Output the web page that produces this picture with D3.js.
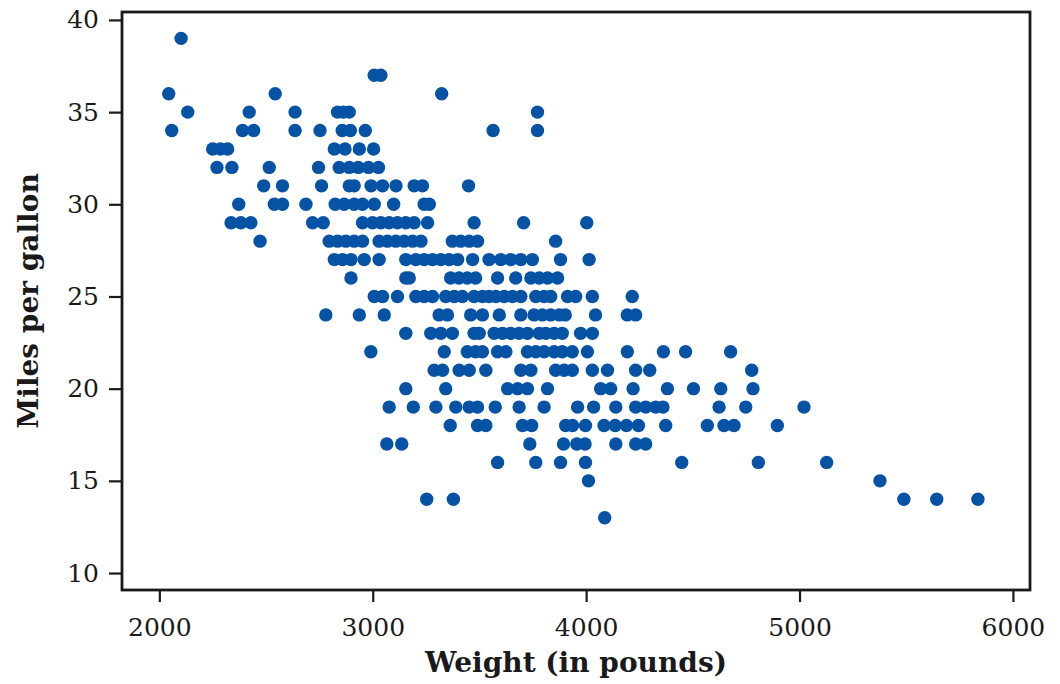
<!DOCTYPE html>
<html>
<head>
<meta charset="utf-8">
<script src="https://cdn.jsdelivr.net/npm/d3@7"></script>
<style>
  html, body { margin: 0; padding: 0; background: #fff; }
  svg { display: block; }
</style>
</head>
<body>
<div id="chart"></div>
<script>
// weights (lb) of the cars, one array per miles-per-gallon value
const w39 = [2102];
const w37 = [3007, 3038];
const w36 = [2044, 2543, 3323];
const w35 = [2133, 2421, 2636, 2835, 2862, 2890, 3772];
const w34 = [2058, 2390, 2442, 2636, 2753, 2857, 2895, 2965, 3564, 3772];
const w33 = [2250, 2286, 2320, 2820, 2870, 2937, 3004];
const w32 = [2270, 2340, 2515, 2746, 2843, 2890, 2932, 2980, 3027];
const w31 = [2489, 2577, 2760, 2890, 2913, 2992, 3046, 3109, 3194, 3233, 3449];
const w30 = [2372, 2539, 2577, 2687, 2824, 2866, 2913, 2952, 3007, 3098, 3241, 3265];
const w29 = [2336, 2382, 2429, 2718, 2768, 2952, 2999, 3038, 3077, 3116, 3155, 3194, 3257, 3475, 3707, 4003];
const w28 = [2472, 2796, 2835, 2874, 2913, 2952, 3030, 3069, 3108, 3147, 3187, 3226, 3373, 3412, 3452, 3491, 3857];
const w27 = [2820, 2858, 2898, 2960, 3030, 3155, 3202, 3241, 3280, 3319, 3358, 3398, 3468, 3545, 3600, 3647, 3694, 3748, 3880, 4014];
const w26 = [2898, 3155, 3171, 3365, 3404, 3443, 3482, 3585, 3670, 3741, 3780, 3819, 3866];
const w25 = [3007, 3046, 3116, 3202, 3241, 3280, 3342, 3382, 3420, 3475, 3514, 3545, 3577, 3616, 3655, 3694, 3764, 3803, 3834, 3913, 3951, 4029, 4216];
const w24 = [2780, 2937, 3054, 3311, 3350, 3459, 3514, 3593, 3694, 3756, 3795, 3834, 3874, 3902, 4044, 4193, 4232];
const w23 = [3155, 3272, 3319, 3373, 3475, 3499, 3569, 3608, 3647, 3686, 3725, 3780, 3811, 3850, 3888, 3974, 4029];
const w22 = [2991, 3335, 3443, 3482, 3514, 3585, 3624, 3725, 3764, 3803, 3850, 3888, 3935, 4006, 4193, 4362, 4466, 4677];
const w21 = [3288, 3327, 3405, 3452, 3530, 3694, 3741, 3857, 3897, 3935, 4029, 4100, 4232, 4298, 4776];
const w20 = [3155, 3342, 3632, 3679, 3725, 3819, 4068, 4115, 4220, 4381, 4503, 4631, 4782];
const w19 = [3077, 3190, 3296, 3389, 3452, 3491, 3574, 3686, 3803, 3960, 4035, 4139, 4232, 4279, 4326, 4360, 4623, 4748, 5021];
const w18 = [3363, 3491, 3530, 3702, 3745, 3904, 3936, 3997, 4084, 4136, 4189, 4245, 4373, 4568, 4646, 4693, 4896];
const w17 = [3066, 3136, 3736, 3894, 3956, 3995, 4139, 4232, 4279];
const w16 = [3585, 3764, 3880, 3997, 4448, 4807, 5127];
const w15 = [4011, 5377];
const w14 = [3253, 3378, 5489, 5643, 5836];
const w13 = [4087];

const mpgValues = [39, 37, 36, 35, 34, 33, 32, 31, 30, 29, 28, 27, 26, 25, 24, 23, 22, 21, 20, 19, 18, 17, 16, 15, 14, 13];
const weightRows = [w39, w37, w36, w35, w34, w33, w32, w31, w30, w29, w28, w27, w26, w25, w24, w23, w22, w21, w20, w19, w18, w17, w16, w15, w14, w13];

const xTicks = [2000, 3000, 4000, 5000, 6000];
const yTicks = [10, 15, 20, 25, 30, 35, 40];

const width = 1060,
  height = 684;
const margin = { top: 12, right: 30, bottom: 94, left: 122 };

const svg = d3.select("#chart")
  .append("svg")
  .attr("width", width)
  .attr("height", height);

const data = [];
mpgValues.forEach((m, i) => {
  weightRows[i].forEach(w => data.push({ weight: w, mpg: m }));
});

const x = d3.scaleLinear()
  .domain([1825, 6080])
  .range([margin.left, width - margin.right]);

const y = d3.scaleLinear()
  .domain([9.08, 40.43])
  .range([height - margin.bottom, margin.top]);

const font = "'DejaVu Serif', 'Liberation Serif', serif";

// points
svg.append("g")
  .selectAll("circle")
  .data(data)
  .join("circle")
  .attr("cx", d => x(d.weight))
  .attr("cy", d => y(d.mpg))
  .attr("r", 6.7)
  .attr("fill", "#0652a5");

// x axis
const xAxis = svg.append("g")
  .attr("transform", "translate(0," + (height - margin.bottom) + ")")
  .call(d3.axisBottom(x).tickValues(xTicks).tickSize(12).tickPadding(16).tickFormat(d3.format("d")));
xAxis.select(".domain").remove();
xAxis.selectAll(".tick line").attr("stroke", "#1a1a1a").attr("stroke-width", 2.2);
xAxis.selectAll(".tick text")
  .attr("fill", "#1a1a1a")
  .style("font-family", font)
  .style("font-size", "25px");

// y axis
const yAxis = svg.append("g")
  .attr("transform", "translate(" + margin.left + ",0)")
  .call(d3.axisLeft(y).tickValues(yTicks).tickSize(13).tickPadding(10));
yAxis.select(".domain").remove();
yAxis.selectAll(".tick line").attr("stroke", "#1a1a1a").attr("stroke-width", 2.2);
yAxis.selectAll(".tick text")
  .attr("fill", "#1a1a1a")
  .style("font-family", font)
  .style("font-size", "25px");

// frame
svg.append("rect")
  .attr("x", margin.left)
  .attr("y", margin.top)
  .attr("width", width - margin.left - margin.right)
  .attr("height", height - margin.top - margin.bottom)
  .attr("fill", "none")
  .attr("stroke", "#1a1a1a")
  .attr("stroke-width", 2.8);

// axis titles
svg.append("text")
  .attr("x", (margin.left + width - margin.right) / 2)
  .attr("y", 672)
  .attr("text-anchor", "middle")
  .attr("fill", "#1a1a1a")
  .style("font-family", font)
  .style("font-weight", "bold")
  .style("font-size", "28px")
  .text("Weight (in pounds)");

svg.append("text")
  .attr("transform", "translate(38," + (margin.top + height - margin.bottom) / 2 + ") rotate(-90)")
  .attr("text-anchor", "middle")
  .attr("fill", "#1a1a1a")
  .style("font-family", font)
  .style("font-weight", "bold")
  .style("font-size", "28px")
  .text("Miles per gallon");
</script>
</body>
</html>
